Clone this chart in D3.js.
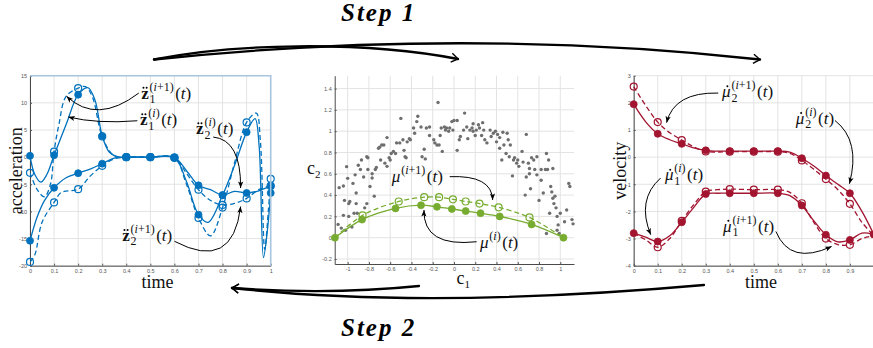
<!DOCTYPE html>
<html>
<head>
<meta charset="utf-8">
<script src="https://cdn.jsdelivr.net/npm/d3@7"></script>
<style>
  body { margin: 0; background: #fff; }
  .tick text { font-family: "Liberation Sans", sans-serif; font-size: 5.5px; fill: #555; }
  .tick line { stroke: #555; }
  .domain { stroke: #4a4a4a; }
  .grid line { stroke: #e3e3e3; stroke-width: 1; }
  .axlabel { font-family: "Liberation Serif", serif; font-size: 18px; fill: #111; }
  .m-main { font-family: "Liberation Serif", serif; font-size: 17px; fill: #111; }
  .m-script { font-family: "Liberation Serif", serif; font-size: 12px; fill: #111; }
  .step { font-family: "Liberation Serif", serif; font-size: 25px; font-weight: bold; font-style: italic; letter-spacing: 2px; }
</style>
</head>
<body>
<div id="vis"></div>
<script>
// ---- data ----
var timeTicks = [0, 0.1, 0.2, 0.3, 0.4, 0.5, 0.6, 0.7, 0.8, 0.9, 1];
var accTicks = [-20, -15, -10, -5, 0, 5, 10, 15];
var c1Ticks = [-1, -0.8, -0.6, -0.4, -0.2, 0, 0.2, 0.4, 0.6, 0.8, 1];
var c2Ticks = [-0.2, 0, 0.2, 0.4, 0.6, 0.8, 1, 1.2, 1.4];
var velTicks = [-4, -3, -2, -1, 0, 1, 2, 3];

// acceleration at the knots (filled = iteration i, open = i+1)
var z1Now  = [0.24, 0.35, 11.5, 3.9, 0, 0, -0.1, -10.6, -7.0, 4.6, -6.6];
var z1Next = [-2.9, 1.0, 12.7, 3.8, 0, 0, -0.1, -11.2, -9.3, 6.4, -4.0];
var z2Now  = [-15.4, -5.65, -2.95, -1.2, 0, 0, -0.1, -5.2, -7.0, -6.6, -5.3];
var z2Next = [-19.3, -8.35, -5.9, -1.6, 0, 0, -0.1, -6.0, -8.8, -7.6, -5.3];

// acceleration curves between knots
var z1NowCurve = [[0, 0.24], [0.02, -3.2], [0.045, -4.6], [0.07, -3.2], [0.1, 0.35], [0.15, 6], [0.2, 11.5],
  [0.24, 12.8], [0.27, 10.5], [0.3, 3.9], [0.33, 0.9], [0.37, 0], [0.4, 0], [0.5, 0], [0.6, -0.1],
  [0.65, -4.5], [0.7, -10.6], [0.74, -12], [0.8, -7], [0.85, -1.5], [0.9, 4.6], [0.935, 7.1],
  [0.952, 2], [0.97, -18.5], [0.985, -14], [1, -6.6]];
var z1NextCurve = [[0, -2.9], [0.03, -6], [0.06, -7.3], [0.085, -5], [0.1, 1.0], [0.12, 6], [0.15, 11.2],
  [0.2, 12.7], [0.23, 13], [0.26, 11], [0.3, 3.8], [0.35, 0.2], [0.4, 0], [0.5, 0], [0.6, -0.1],
  [0.65, -5], [0.7, -11.2], [0.75, -14.5], [0.8, -9.3], [0.85, -1], [0.9, 6.4], [0.94, 8.1],
  [0.957, 3], [0.975, -17], [0.99, -10], [1, -4.0]];
var z2NowCurve = [[0, -15.4], [0.03, -11], [0.06, -8], [0.1, -5.65], [0.15, -3.8], [0.2, -2.95], [0.25, -2.2],
  [0.3, -1.2], [0.35, -0.2], [0.4, 0], [0.5, 0], [0.6, -0.1], [0.65, -2.5], [0.7, -5.2], [0.75, -6],
  [0.8, -7.0], [0.85, -6.3], [0.9, -6.6], [0.95, -6.2], [1, -5.3]];
var z2NextCurve = [[0, -19.3], [0.02, -18], [0.05, -12], [0.1, -8.35], [0.13, -6.5], [0.2, -5.9], [0.25, -3.5],
  [0.3, -1.6], [0.35, -0.3], [0.4, 0], [0.5, 0], [0.6, -0.1], [0.65, -3], [0.7, -6.0], [0.75, -8],
  [0.8, -8.8], [0.85, -8.5], [0.9, -7.6], [0.95, -6], [1, -5.3]];

// latent space samples (c1, c2)
var cloud = [[-1.09, 0.125], [-1.08, 0.47], [-1.04, 0.485], [-1.01, 0.667], [-1.0, 0.557], [-1.03, 0.35],
  [-0.99, 0.32], [-0.98, 0.34], [-0.99, 0.2], [-1.04, 0.21], [-1.06, 0.09], [-1.02, 0.07], [-0.96, 0.1],
  [-0.95, 0.51], [-0.93, 0.59], [-0.92, 0.42], [-0.94, 0.23], [-0.92, 0.32], [-0.91, 0.23], [-0.9, 0.68],
  [-0.88, 0.64], [-0.87, 0.73], [-0.85, 0.57], [-0.84, 0.28], [-0.82, 0.76], [-0.81, 0.64], [-0.81, 0.75],
  [-0.82, 0.32], [-0.79, 0.48], [-0.77, 0.56], [-0.77, 0.6], [-0.75, 0.39], [-0.74, 0.64], [-0.73, 0.66],
  [-0.71, 0.84], [-0.7, 0.85], [-0.69, 0.73], [-0.68, 0.87], [-0.66, 0.87], [-0.65, 0.7], [-0.63, 0.94],
  [-0.63, 0.67], [-0.61, 0.75], [-0.6, 0.73], [-0.59, 0.79], [-0.57, 0.81], [-0.55, 0.79], [-0.54, 0.89],
  [-0.51, 0.89], [-0.5, 1.12], [-0.48, 0.92], [-0.47, 0.82], [-0.46, 0.76], [-0.45, 0.75], [-0.44, 0.9],
  [-0.42, 0.93], [-0.41, 0.92], [-0.38, 1.03], [-0.37, 0.98], [-0.35, 1.09], [-0.34, 1.14], [-0.31, 1.04],
  [-0.3, 0.76], [-0.28, 0.83], [-0.27, 0.74], [-0.26, 1.03], [-0.23, 0.96], [-0.23, 1.04], [-0.19, 0.92],
  [-0.18, 0.89], [-0.16, 0.87], [-0.15, 1.27], [-0.14, 0.87], [-0.13, 0.96], [-0.12, 1.03], [-0.11, 0.81],
  [-0.09, 1.04], [-0.08, 1.01], [-0.07, 1.03], [-0.05, 1.0], [-0.04, 1.03], [-0.02, 1.09], [-0.01, 1.01],
  [0, 1.1], [0.03, 1.1], [0.03, 0.82], [0.05, 0.92], [0.06, 0.95], [0.09, 1.01], [0.1, 1.17], [0.12, 1.04],
  [0.13, 0.93], [0.15, 1.01], [0.17, 1.03], [0.18, 1.0], [0.18, 1.07], [0.2, 0.96], [0.21, 1.01],
  [0.23, 1.06], [0.24, 1.03], [0.26, 0.96], [0.27, 1.08], [0.28, 1.01], [0.29, 0.92], [0.31, 0.89],
  [0.34, 1.01], [0.35, 0.95], [0.37, 0.98], [0.39, 1.0], [0.4, 0.9], [0.41, 0.97], [0.43, 0.94],
  [0.43, 0.84], [0.45, 0.73], [0.46, 0.99], [0.47, 0.87], [0.49, 0.79], [0.5, 0.98], [0.51, 0.92],
  [0.52, 0.76], [0.53, 0.87], [0.55, 0.58], [0.56, 0.73], [0.57, 0.75], [0.59, 0.7], [0.6, 0.73],
  [0.61, 0.67], [0.64, 0.81], [0.65, 0.71], [0.67, 0.4], [0.68, 0.97], [0.68, 0.57], [0.7, 0.7],
  [0.71, 0.65], [0.71, 0.6], [0.72, 0.46], [0.73, 0.75], [0.75, 0.73], [0.76, 0.64], [0.78, 0.59],
  [0.78, 0.76], [0.8, 0.35], [0.82, 0.64], [0.82, 0.54], [0.84, 0.42], [0.86, 0.64], [0.87, 0.79],
  [0.87, 0.04], [0.88, 0.64], [0.89, 0.73], [0.9, 0.23], [0.91, 0.48], [0.92, 0.43], [0.93, 0.65],
  [0.93, 0.37], [0.94, 0.32], [0.95, 0.39], [0.96, 0.28], [0.97, 0.2], [0.97, 0.07], [0.98, 0.12],
  [0.99, 0.04], [1.0, 0.23], [1.04, 0.15], [1.06, 0.26], [1.08, 0.51], [1.09, 0.48], [1.11, 0.17],
  [1.12, 0.13]];

// mean path in latent space
var muNow  = [[-1.12, 0], [-0.865, 0.17], [-0.55, 0.275], [-0.31, 0.305], [-0.16, 0.29], [-0.02, 0.27],
  [0.11, 0.25], [0.25, 0.23], [0.43, 0.2], [0.73, 0.125], [1.03, 0]];
var muNext = [[-1.12, 0], [-0.86, 0.21], [-0.52, 0.34], [-0.28, 0.38], [-0.14, 0.38], [-0.01, 0.36],
  [0.11, 0.34], [0.24, 0.32], [0.42, 0.285], [0.71, 0.19], [1.03, 0]];

// velocity at the knots
var mu1Now  = [-2.8, -3.11, -2.4, -1.36, -1.33, -1.33, -1.33, -1.78, -2.86, -3.05, -2.85];
var mu1Next = [-2.8, -3.32, -2.35, -1.27, -1.18, -1.2, -1.2, -1.7, -3.0, -3.23, -2.9];
var mu2Now  = [1.95, 0.86, 0.49, 0.25, 0.22, 0.22, 0.22, -0.04, -0.68, -1.33, -2.85];
var mu2Next = [2.6, 1.29, 0.63, 0.21, 0.2, 0.2, 0.2, -0.12, -0.81, -1.72, -2.9];

var mu1NowCurve = [[0, -2.8], [0.05, -2.95], [0.1, -3.11], [0.15, -2.9], [0.2, -2.4], [0.25, -1.85],
  [0.3, -1.36], [0.35, -1.33], [0.4, -1.33], [0.5, -1.33], [0.6, -1.33], [0.65, -1.42], [0.7, -1.78],
  [0.75, -2.35], [0.8, -2.86], [0.85, -3.12], [0.9, -3.05], [0.95, -2.8], [1, -2.85]];
var mu1NextCurve = [[0, -2.8], [0.05, -3.05], [0.1, -3.32], [0.15, -3.0], [0.2, -2.35], [0.25, -1.75],
  [0.3, -1.27], [0.35, -1.2], [0.4, -1.18], [0.5, -1.2], [0.6, -1.2], [0.65, -1.3], [0.7, -1.7],
  [0.75, -2.4], [0.8, -3.0], [0.85, -3.22], [0.9, -3.23], [0.95, -3.0], [1, -2.9]];
var mu2NowCurve = [[0, 1.95], [0.05, 1.3], [0.1, 0.86], [0.15, 0.64], [0.2, 0.49], [0.25, 0.34],
  [0.3, 0.25], [0.35, 0.22], [0.4, 0.22], [0.5, 0.22], [0.6, 0.22], [0.65, 0.18], [0.7, -0.04],
  [0.75, -0.33], [0.8, -0.68], [0.85, -1.0], [0.9, -1.33], [0.95, -2.0], [1, -2.85]];
var mu2NextCurve = [[0, 2.6], [0.05, 1.9], [0.1, 1.29], [0.15, 0.9], [0.2, 0.63], [0.25, 0.38],
  [0.3, 0.21], [0.35, 0.19], [0.4, 0.2], [0.5, 0.2], [0.6, 0.2], [0.65, 0.14], [0.7, -0.12],
  [0.75, -0.45], [0.8, -0.81], [0.85, -1.2], [0.9, -1.72], [0.95, -2.4], [1, -2.9]];

// ---- drawing ----
var width = 873, height = 348;
var blue = "#0072BD", green = "#77AC30", red = "#A2142F";

var svg = d3.select("#vis").append("svg")
    .attr("width", width)
    .attr("height", height);

var defs = svg.append("defs");

function num(d) { return String(+d.toFixed(2)); }

// grid + axes for one panel
function panel(x, y, xt, yt, xlabels) {
    var g = svg.append("g");
    var grid = g.append("g").attr("class", "grid");
    grid.selectAll(".gx").data(xt).enter().append("line")
        .attr("x1", d => x(d)).attr("x2", d => x(d))
        .attr("y1", y.range()[0]).attr("y2", y.range()[1]);
    grid.selectAll(".gy").data(yt).enter().append("line")
        .attr("x1", x.range()[0]).attr("x2", x.range()[1])
        .attr("y1", d => y(d)).attr("y2", d => y(d));

    g.append("g")
        .attr("transform", "translate(0," + y.range()[0] + ")")
        .call(d3.axisBottom(x).tickValues(xlabels || xt).tickFormat(num).tickSize(-2).tickSizeOuter(0).tickPadding(3));
    g.append("g")
        .attr("transform", "translate(" + x.range()[0] + ",0)")
        .call(d3.axisLeft(y).tickValues(yt).tickFormat(num).tickSize(-2).tickSizeOuter(0).tickPadding(3));
    return g;
}

function curve(g, x, y, pts, col, dashed) {
    var line = d3.line().x(d => x(d[0])).y(d => y(d[1])).curve(d3.curveCatmullRom.alpha(0.5));
    g.append("path")
        .attr("d", line(pts))
        .attr("fill", "none")
        .attr("stroke", col)
        .attr("stroke-width", 1.3)
        .attr("stroke-dasharray", dashed ? "5,3" : null);
}

function marks(g, x, y, pts, col, open) {
    g.selectAll(null).data(pts).enter().append("circle")
        .attr("cx", d => x(d[0])).attr("cy", d => y(d[1]))
        .attr("r", 3.5)
        .attr("fill", open ? "none" : col)
        .attr("stroke", col)
        .attr("stroke-width", open ? 1.2 : 0.8);
}

function knots(vals) { return timeTicks.map((t, i) => [t, vals[i]]); }

// annotation arrow: quadratic bezier with a filled head
function arrow(g, p0, p1, p2) {
    g.append("path")
        .attr("d", "M" + p0 + "Q" + p1 + " " + p2)
        .attr("fill", "none").attr("stroke", "#000").attr("stroke-width", 1);
    var a = Math.atan2(p2[1] - p1[1], p2[0] - p1[0]), L = 6.5, W = 2.6;
    var bx = p2[0] - L * Math.cos(a), by = p2[1] - L * Math.sin(a);
    g.append("path")
        .attr("d", "M" + p2 + "L" + [bx + W * Math.sin(a), by - W * Math.cos(a)] +
            "L" + [bx + 1.5 * Math.cos(a), by + 1.5 * Math.sin(a)] +
            "L" + [bx - W * Math.sin(a), by + W * Math.cos(a)] + "Z")
        .attr("fill", "#000");
}

// label like  z̈_1^(i+1)(t)  or  μ̇_2^(i)(t)
function mathLabel(g, px, py, kind, dots, sub, sup) {
    var lab = g.append("g").attr("transform", "translate(" + px + "," + py + ")");
    var bt = lab.append("text").attr("class", "m-main");
    if (kind == "z") bt.attr("font-weight", "bold").text("z");
    else bt.attr("font-style", "italic").text("\u03bc");
    var bw = bt.node().getComputedTextLength();
    if (dots == 2) {
        lab.append("circle").attr("cx", bw * 0.3).attr("cy", -10.8).attr("r", 1);
        lab.append("circle").attr("cx", bw * 0.72).attr("cy", -10.8).attr("r", 1);
    } else if (dots == 1) {
        lab.append("circle").attr("cx", bw * 0.62).attr("cy", -10.8).attr("r", 1);
    }
    var sx = bw + 0.8, w2 = 0;
    if (sub) {
        var s = lab.append("text").attr("class", "m-script").attr("x", sx).attr("y", 4.5).text(sub);
        w2 = s.node().getComputedTextLength();
    }
    var p = lab.append("text").attr("class", "m-script").attr("x", sx).attr("y", -8);
    p.append("tspan").text("(");
    p.append("tspan").attr("font-style", "italic").text("i");
    p.append("tspan").text(sup + ")");
    w2 = Math.max(w2, p.node().getComputedTextLength());
    var t = lab.append("text").attr("class", "m-main").attr("x", sx + w2 + 1.5);
    t.append("tspan").text("(");
    t.append("tspan").attr("font-style", "italic").text("t");
    t.append("tspan").text(")");
}

// ---------- left: acceleration ----------
var xA = d3.scaleLinear().domain([0, 1]).range([30, 270.7]);
var yA = d3.scaleLinear().domain([-20, 15]).range([265.7, 75.7]);
var gA = panel(xA, yA, timeTicks, accTicks);

defs.append("clipPath").attr("id", "clipA").append("rect")
    .attr("x", 30).attr("y", 75.7).attr("width", 240.7).attr("height", 190);
var cA = gA.append("g").attr("clip-path", "url(#clipA)");
curve(cA, xA, yA, z1NextCurve, blue, true);
curve(cA, xA, yA, z2NextCurve, blue, true);
curve(cA, xA, yA, z1NowCurve, blue, false);
curve(cA, xA, yA, z2NowCurve, blue, false);
marks(gA, xA, yA, knots(z1Now), blue, false);
marks(gA, xA, yA, knots(z2Now), blue, false);
marks(gA, xA, yA, knots(z1Next), blue, true);
marks(gA, xA, yA, knots(z2Next), blue, true);

// light blue frame on top and right
gA.append("path")
    .attr("d", "M" + [xA(0), yA(15)] + "L" + [xA(1), yA(15)] + "L" + [xA(1), yA(-20)])
    .attr("fill", "none").attr("stroke", "#a9c6e0").attr("stroke-width", 1.6);

gA.append("text").attr("class", "axlabel")
    .attr("transform", "translate(22," + ((yA(15) + yA(-20)) / 2) + ") rotate(-90)")
    .attr("text-anchor", "middle").text("acceleration");
gA.append("text").attr("class", "axlabel")
    .attr("x", 157.5).attr("y", 288).attr("text-anchor", "middle").text("time");

mathLabel(gA, xA(0.462), 98.5, "z", 2, "1", "+1");
arrow(gA, [xA(0.452), yA(11.8)], [xA(0.278), yA(5.95)], [xA(0.152), yA(11.2)]);
mathLabel(gA, xA(0.457), 125, "z", 2, "1", "");
arrow(gA, [xA(0.446), yA(6.7)], [xA(0.279), yA(6.1)], [xA(0.159), yA(7.4)]);
mathLabel(gA, xA(0.69), 134, "z", 2, "2", "");
arrow(gA, [xA(0.761), yA(3.7)], [xA(0.877), yA(3.2)], [xA(0.875), yA(-5.7)]);
mathLabel(gA, xA(0.383), 240.7, "z", 2, "2", "+1");
arrow(gA, [xA(0.6), yA(-15.5)], [xA(0.843), yA(-21.2)], [xA(0.875), yA(-9.1)]);

// ---------- middle: latent space ----------
var xC = d3.scaleLinear().domain([-1.122, 1.129]).range([334.7, 574]);
var yC = d3.scaleLinear().domain([-0.247, 1.521]).range([264, 75.7]);
var gC = panel(xC, yC, c1Ticks, c2Ticks);

gC.append("g").selectAll("circle").data(cloud).enter().append("circle")
    .attr("cx", d => xC(d[0])).attr("cy", d => yC(d[1]))
    .attr("r", 1.7).attr("fill", "#6e6e6e");

curve(gC, xC, yC, muNext, green, true);
curve(gC, xC, yC, muNow, green, false);
marks(gC, xC, yC, muNow, green, false);
marks(gC, xC, yC, muNext.slice(1, -1), green, true);

var c2lab = gC.append("text").attr("class", "axlabel").attr("x", 307).attr("y", 174);
c2lab.append("tspan").text("c");
c2lab.append("tspan").attr("font-size", "11px").attr("dy", 4).text("2");
var c1lab = gC.append("text").attr("class", "axlabel").attr("x", 456.5).attr("y", 284);
c1lab.append("tspan").text("c");
c1lab.append("tspan").attr("font-size", "11px").attr("dy", 4).text("1");

mathLabel(gC, xC(-0.585), yC(0.526), "mu", 0, null, "+1");
arrow(gC, [xC(-0.04), yC(0.573)], [xC(0.357), yC(0.589)], [xC(0.364), yC(0.354)]);
mathLabel(gC, xC(0.245), yC(-0.1), "mu", 0, null, "");
arrow(gC, [xC(0.213), yC(-0.038)], [xC(-0.292), yC(-0.092)], [xC(-0.282), yC(0.26)]);

// ---------- right: velocity ----------
var xV = d3.scaleLinear().domain([0, 1]).range([633.7, 873.9]);
var yV = d3.scaleLinear().domain([-4, 3]).range([265.7, 75.7]);
var gV = panel(xV, yV, timeTicks, velTicks, timeTicks.slice(0, 10));

curve(gV, xV, yV, mu2NextCurve, red, true);
curve(gV, xV, yV, mu1NextCurve, red, true);
curve(gV, xV, yV, mu2NowCurve, red, false);
curve(gV, xV, yV, mu1NowCurve, red, false);
marks(gV, xV, yV, knots(mu2Now), red, false);
marks(gV, xV, yV, knots(mu1Now), red, false);
marks(gV, xV, yV, knots(mu2Next).slice(0, 10), red, true);
marks(gV, xV, yV, knots(mu1Next).slice(1, 10), red, true);

gV.append("text").attr("class", "axlabel")
    .attr("transform", "translate(626," + ((yV(3) + yV(-4)) / 2) + ") rotate(-90)")
    .attr("text-anchor", "middle").text("velocity");
gV.append("text").attr("class", "axlabel")
    .attr("x", 761).attr("y", 288).attr("text-anchor", "middle").text("time");

mathLabel(gV, xV(0.368), yV(2.21), "mu", 1, "2", "+1");
arrow(gV, [xV(0.352), yV(2.36)], [xV(0.168), yV(2.4)], [xV(0.137), yV(1.27)]);
mathLabel(gV, xV(0.675), yV(1.23), "mu", 1, "2", "");
arrow(gV, [xV(0.838), yV(1.35)], [xV(0.946), yV(0.6)], [xV(0.898), yV(-0.98)]);
mathLabel(gV, xV(0.13), yV(-0.86), "mu", 1, "1", "");
arrow(gV, [xV(0.112), yV(-0.77)], [xV(0.011), yV(-1.57)], [xV(0.071), yV(-2.86)]);
mathLabel(gV, xV(0.372), yV(-2.74), "mu", 1, "1", "+1");
arrow(gV, [xV(0.592), yV(-2.74)], [xV(0.651), yV(-4.0)], [xV(0.824), yV(-3.29)]);

// ---------- step arrows ----------
function stepArrow(d, end, prev) {
    svg.append("path").attr("d", d)
        .attr("fill", "none").attr("stroke", "#000").attr("stroke-width", 2.3)
        .attr("stroke-linecap", "round");
    var a = Math.atan2(end[1] - prev[1], end[0] - prev[0]), L = 8;
    svg.append("path")
        .attr("d", "M" + [end[0] - L * Math.cos(a - 0.6), end[1] - L * Math.sin(a - 0.6)] +
            "L" + end + "L" + [end[0] - L * Math.cos(a + 0.6), end[1] - L * Math.sin(a + 0.6)])
        .attr("fill", "none").attr("stroke", "#000").attr("stroke-width", 1.4);
}
stepArrow("M154,59.5C230,44 360,40 458,59", [458, 59], [360, 40]);
stepArrow("M154,59.5Q465,27 760,59.5", [760, 59.5], [465, 27]);
stepArrow("M704,285Q426,309.5 232,288", [232, 288], [426, 309.5]);
stepArrow("M419,286Q330,295 232,288", [232, 288], [330, 295]);

svg.append("text").attr("class", "step").attr("x", 341).attr("y", 20.7).text("Step 1");
svg.append("text").attr("class", "step").attr("x", 341).attr("y", 336).text("Step 2");
</script>
</body>
</html>
